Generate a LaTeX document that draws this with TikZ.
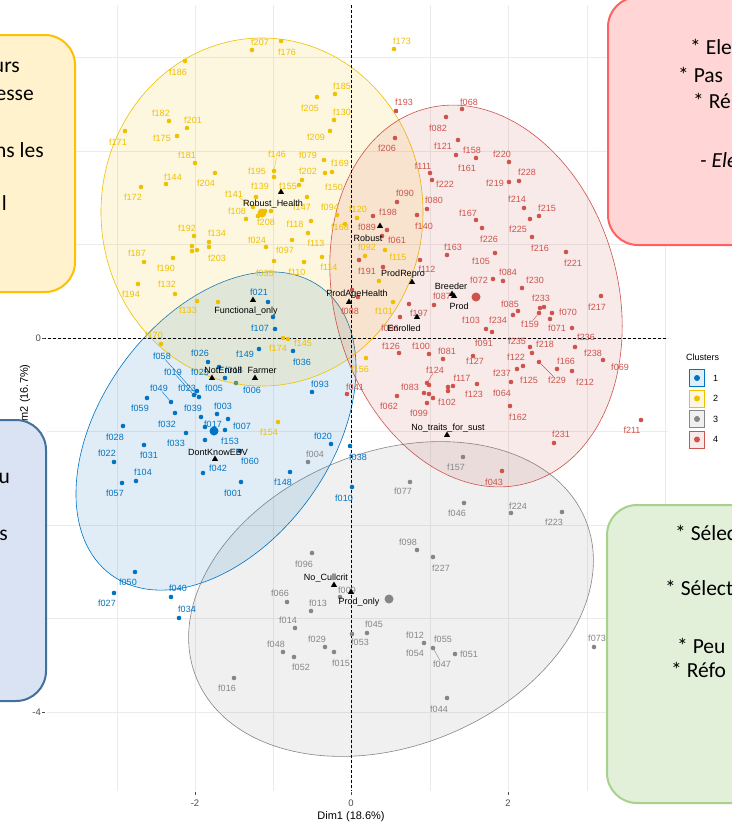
\documentclass[tikz,border=0pt]{standalone}
\usepackage{fontspec}
\setmainfont{Liberation Sans}
\newfontfamily\cbfont{Carlito}
\usetikzlibrary{shapes.geometric}
\definecolor{cb}{HTML}{0073C2}
\definecolor{cy}{HTML}{EFC000}
\definecolor{cg}{HTML}{868686}
\definecolor{cr}{HTML}{CD534C}
\definecolor{gridc}{HTML}{EBEBEB}
\definecolor{axc}{HTML}{4D4D4D}
\definecolor{yfill}{HTML}{FFF2CC}
\definecolor{ybord}{HTML}{FFC000}
\definecolor{bfill}{HTML}{DAE3F3}
\definecolor{bbord}{HTML}{41719C}
\definecolor{rfill}{HTML}{FFD5D5}
\definecolor{rbord}{HTML}{FF6161}
\definecolor{gfill}{HTML}{E2F0D9}
\definecolor{gbord}{HTML}{A9D18E}
\definecolor{mixg}{HTML}{5F9466}
\newcommand\mkpt[6]{\node[pdot,fill=#1] (d-#2) at (#3,#4) {};\node[plab,text=#1] (l-#2) at (#5,#6) {#2};}
\newcommand\mkdot[4]{\node[pdot,fill=#1] (#2) at (#3,#4) {};}
\newcommand\mklab[4]{\node[plab,text=#1] (l-#2) at (#3,#4) {#2};}
\newcommand\mksup[6]{\node[suptri] (t-#1) at (#3,#4) {};\node[suplab] (s-#1) at (#5,#6) {#2};}
\begin{document}
\begin{tikzpicture}[x=1pt,y=-1pt,
  pdot/.style={circle,inner sep=0pt,minimum size=4.6pt,draw=none},
  bigdot/.style={circle,inner sep=0pt,minimum size=9pt,draw=none},
  plab/.style={inner sep=0pt,font=\fontsize{9}{10}\selectfont},
  suptri/.style={regular polygon,regular polygon sides=3,fill=black,inner sep=0pt,minimum size=7pt},
  suplab/.style={inner sep=0pt,font=\fontsize{9}{10}\selectfont,text=black},
  gridl/.style={draw=gridc,line width=0.6pt},
  ell/.style={line width=0.6pt,fill opacity=0.12},
  zeroline/.style={black,line width=0.6pt,dash pattern=on 3pt off 2pt},
  ticklab/.style={inner sep=0pt,text=axc,font=\fontsize{9.5}{10}\selectfont},
  boxsty/.style={line width=2pt,rounded corners=30pt},
  boxtxt/.style={inner sep=0pt,text=black,font=\cbfont\fontsize{21.5}{24}\selectfont},
  legkey/.style={minimum width=15pt,minimum height=17pt,inner sep=0pt,line width=0.6pt},
]
\fill[white] (0,0) rectangle (731,827);
\useasboundingbox (0,0) rectangle (731,827);
% grid
\foreach \gx in {117,195,273,351,430,508,587,665} \draw[gridl] (\gx,5) -- (\gx,791);
\foreach \gy in {57,151,244,338,431,525,618,712} \draw[gridl] (47,\gy) -- (668,\gy);
% ellipses
\filldraw[ell,draw=cg,fill=cg,shift={(391,599)},rotate=22] (0,0) ellipse [x radius=210,y radius=147];
\filldraw[ell,draw=cb,fill=cb,shift={(216,431)},rotate=54] (0,0) ellipse [x radius=178,y radius=115];
\filldraw[ell,draw=cy,fill=cy] (262,212) ellipse [x radius=161,y radius=174];
\filldraw[ell,draw=cr,fill=cr,shift={(476,296)},rotate=15.2] (0,0) ellipse [x radius=142,y radius=194];
% zero lines
\draw[zeroline] (43,338) -- (668,338);
\draw[zeroline] (351,5) -- (351,791);
% ticks
\foreach \gy in {338,712} \draw[axc,line width=0.5pt] (42,\gy) -- (45,\gy);
\foreach \gx in {195,351,508} \draw[axc,line width=0.5pt] (\gx,792) -- (\gx,795);
\node[ticklab,anchor=east] (ty0) at (41,338) {0};
\node[ticklab,anchor=east] (ty4) at (41,712) {-4};
\node[ticklab] (tx2m) at (195,803) {-2};
\node[ticklab] (tx0) at (351,803) {0};
\node[ticklab] (tx2) at (508,803) {2};
\node[inner sep=0pt,font=\fontsize{11}{12}\selectfont,text=black] (xt) at (351,817) {Dim1 (18.6\%)};
\node[inner sep=0pt,font=\fontsize{11}{12}\selectfont,text=black,rotate=90] (yt) at (25,398) {Dim2 (16.7\%)};
% big centre dots
\node[bigdot,fill=cy] (cy0) at (262,213) {};
\node[bigdot,fill=cb] (cb0) at (214,431) {};
\node[bigdot,fill=cr] (cr0) at (476,297) {};
\node[bigdot,fill=cg] (cg0) at (389,599) {};
% yellow cluster
\mkpt{cy}{f186}{185}{61}{178}{72}
\mkpt{cy}{f182}{169}{121}{161}{113}
\mkpt{cy}{f201}{187}{128}{193}{120}
\mkpt{cy}{f171}{125}{131}{118}{142}
\mkpt{cy}{f175}{177}{136}{162}{138}
\mkpt{cy}{f181}{195}{163}{187}{155}
\mkpt{cy}{f144}{166}{184}{173}{177}
\mkpt{cy}{f204}{215}{173}{206}{183}
\mkpt{cy}{f172}{141}{187}{133}{197}
\mkpt{cy}{f141}{253}{207}{234}{194}
\mkpt{cy}{f108}{246}{219}{237}{211}
\mkpt{cy}{f192}{194}{236}{187}{228}
\mkpt{cy}{f134}{209}{242}{217}{233}
\mkpt{cy}{f203}{209}{247}{217}{258}
\mkpt{cy}{f187}{144}{262}{137}{253}
\mkpt{cy}{f190}{173}{258}{166}{268}
\mkpt{cy}{f194}{138}{284}{131}{294}
\mkpt{cy}{f132}{175}{294}{167}{284}
\mkpt{cy}{f133}{197}{301}{188}{310}
\mkpt{cy}{f207}{252}{50}{260}{42}
\mkpt{cy}{f176}{281}{41}{287}{52}
\mkpt{cy}{f173}{394}{49}{402}{41}
\mkpt{cy}{f185}{335}{94}{342}{86}
\mkpt{cy}{f205}{317}{97}{310}{108}
\mkpt{cy}{f130}{334}{120}{342}{112}
\mkpt{cy}{f209}{330}{131}{316}{137}
\mkpt{cy}{f146}{274}{171}{277}{154}
\mkpt{cy}{f195}{274}{177}{257}{171}
\mkpt{cy}{f079}{324}{160}{308}{155}
\mkpt{cy}{f169}{332}{172}{340}{163}
\mkpt{cy}{f202}{325}{173}{308}{171}
\mkpt{cy}{f139}{256}{197}{260}{186}
\mkpt{cy}{f155}{299}{185}{288}{186}
\mkpt{cy}{f150}{302}{180}{334}{187}
\mkpt{cy}{f147}{307}{197}{302}{207}
\mkpt{cy}{f094}{337}{215}{330}{207}
\mkpt{cy}{f120}{357}{218}{358}{209}
\mkpt{cy}{f118}{311}{221}{295}{224}
\mkpt{cy}{f168}{345}{224}{340}{227}
\mkpt{cy}{f208}{258}{216}{266}{222}
\mkpt{cy}{f024}{266}{247}{257}{240}
\mkpt{cy}{f097}{292}{240}{285}{250}
\mkpt{cy}{f113}{308}{233}{316}{243}
\mkpt{cy}{f092}{365}{256}{367}{247}
\mkpt{cy}{f115}{385}{250}{398}{257}
\mkpt{cy}{f114}{322}{257}{329}{267}
\mkpt{cy}{f110}{304}{262}{297}{272}
\mkpt{cy}{f035}{274}{261}{265}{273}
\mkpt{cy}{f101}{393}{302}{384}{311}
\mkpt{cy}{f174}{283}{338}{278}{348}
\mkpt{cy}{f145}{288}{339}{303}{343}
\mkpt{cy}{f156}{366}{358}{360}{369}
\mkpt{cy}{f154}{278}{422}{269}{432}
\mkpt{cy}{f170}{161}{344}{154}{335}
\mkdot{cy}{y1}{192}{246}
\mkdot{cy}{y2}{192}{251}
\mkdot{cy}{y3}{197}{250}
\mkdot{cy}{y4}{218}{302}
\mkdot{cy}{y5}{379}{281}
\mkdot{cy}{y6}{265}{211}
\mkdot{cy}{y7}{271}{211}
\draw[cy,line width=0.4pt] (l-f141) -- (d-f141);
\draw[cy,line width=0.4pt] (l-f146) -- (d-f146);
% blue cluster
\mkpt{cb}{f021}{268}{302}{259}{292}
\mkdot{cb}{b1}{273}{317}
\mkpt{cb}{f107}{275}{329}{260}{328}
\mkpt{cb}{f149}{259}{349}{245}{354}
\mkpt{cb}{f036}{293}{351}{302}{362}
\mkpt{cb}{f026}{208}{362}{200}{353}
\mkpt{cb}{f058}{199}{397}{162}{356}
\mkpt{cb}{f019}{194}{395}{173}{372}
\mkpt{cb}{f023}{197}{391}{187}{388}
\mkpt{cb}{f025}{219}{367}{200}{372}
\mklab{cb}{f018}{234}{370}
\mkpt{cb}{f005}{225}{378}{214}{388}
\node[pdot,fill=mixg] (d-f006) at (236,383) {};
\node[plab,text=cb] (l-f006) at (252,390) {f006};
\mkpt{cb}{f049}{171}{402}{159}{388}
\mkpt{cb}{f059}{147}{398}{140}{408}
\mkpt{cb}{f039}{201}{417}{193}{408}
\mkpt{cb}{f003}{217}{414}{223}{406}
\mkdot{cb}{b2}{228}{419}
\mkpt{cb}{f032}{175}{413}{167}{424}
\mkpt{cb}{f017}{205}{427}{213}{424}
\mkpt{cb}{f007}{225}{430}{242}{426}
\mkpt{cb}{f028}{123}{426}{115}{437}
\mkpt{cb}{f033}{186}{433}{176}{443}
\mkpt{cb}{f153}{205}{440}{230}{441}
\mkpt{cb}{f022}{114}{462}{107}{453}
\mkpt{cb}{f031}{144}{445}{149}{455}
\mkpt{cb}{f042}{203}{473}{218}{468}
\mkpt{cb}{f060}{240}{451}{250}{461}
\mkpt{cb}{f104}{136}{481}{143}{472}
\mkpt{cb}{f057}{122}{483}{115}{493}
\mkpt{cb}{f001}{241}{482}{233}{493}
\mkpt{cb}{f093}{312}{392}{320}{384}
\mkpt{cb}{f020}{331}{444}{323}{436}
\mkpt{cb}{f038}{350}{446}{358}{457}
\mkpt{cb}{f148}{290}{472}{283}{482}
\mkpt{cb}{f010}{352}{487}{344}{498}
\mkpt{cb}{f050}{135}{572}{128}{582}
\mkpt{cb}{f027}{114}{593}{107}{603}
\mkpt{cb}{f040}{171}{597}{178}{588}
\mkpt{cb}{f034}{179}{618}{187}{609}
\draw[cb,line width=0.4pt] (l-f058) -- (d-f058);
\draw[cb,line width=0.4pt] (l-f019) -- (d-f019);
\draw[cb,line width=0.4pt] (l-f049) -- (d-f049);
% grey cluster
\mkpt{cg}{f004}{308}{462}{315}{454}
\mkpt{cg}{f077}{410}{482}{403}{491}
\mkpt{cg}{f157}{463}{457}{456}{467}
\mkpt{cg}{f046}{464}{503}{457}{513}
\mkpt{cg}{f224}{511}{513}{518}{506}
\mkpt{cg}{f223}{562}{512}{554}{522}
\mkpt{cg}{f098}{417}{550}{408}{542}
\mkpt{cg}{f227}{433}{557}{441}{568}
\mkpt{cg}{f096}{312}{553}{304}{564}
\mkpt{cg}{f009}{340}{597}{347}{590}
\mkpt{cg}{f066}{287}{602}{280}{593}
\mkpt{cg}{f013}{311}{611}{318}{603}
\mkpt{cg}{f014}{295}{628}{288}{620}
\mkpt{cg}{f045}{367}{633}{374}{624}
\mkpt{cg}{f053}{352}{634}{360}{642}
\mkpt{cg}{f029}{325}{647}{317}{639}
\mkpt{cg}{f048}{283}{652}{276}{644}
\mkpt{cg}{f015}{334}{652}{341}{663}
\mkpt{cg}{f052}{294}{657}{301}{667}
\mkpt{cg}{f012}{424}{643}{415}{635}
\mklab{cg}{f054}{415}{653}
\mkpt{cg}{f047}{433}{648}{442}{664}
\mklab{cg}{f055}{443}{639}
\mkpt{cg}{f051}{455}{654}{469}{654}
\mkpt{cg}{f016}{234}{678}{227}{688}
\mkpt{cg}{f044}{447}{698}{439}{709}
\mkpt{cg}{f073}{594}{647}{597}{638}
\draw[cg,line width=0.4pt] (l-f047) -- (d-f047);
% red cluster
\mkpt{cr}{f193}{396}{111}{404}{102}
\mkpt{cr}{f068}{462}{109}{469}{102}
\mkpt{cr}{f082}{446}{117}{438}{128}
\mkpt{cr}{f206}{395}{138}{387}{148}
\mkpt{cr}{f121}{458}{140}{443}{146}
\mkpt{cr}{f158}{476}{158}{472}{150}
\mkpt{cr}{f161}{456}{155}{467}{168}
\mkpt{cr}{f220}{509}{162}{502}{154}
\mkpt{cr}{f228}{519}{181}{527}{172}
\mkpt{cr}{f219}{509}{182}{495}{183}
\mkpt{cr}{f111}{430}{173}{423}{166}
\mkpt{cr}{f222}{432}{180}{445}{184}
\mkpt{cr}{f090}{397}{202}{405}{193}
\mkpt{cr}{f080}{427}{209}{434}{200}
\mkpt{cr}{f140}{417}{215}{424}{226}
\mkpt{cr}{f198}{373}{216}{388}{212}
\mkpt{cr}{f089}{387}{230}{367}{227}
\mkpt{cr}{f061}{382}{236}{397}{240}
\mkpt{cr}{f167}{476}{220}{468}{213}
\mkpt{cr}{f226}{482}{228}{489}{239}
\mkpt{cr}{f214}{524}{208}{517}{199}
\mkpt{cr}{f215}{539}{216}{547}{208}
\mkpt{cr}{f225}{530}{219}{518}{229}
\mkpt{cr}{f216}{532}{237}{540}{248}
\mkpt{cr}{f221}{566}{252}{573}{263}
\mkpt{cr}{f163}{447}{255}{453}{247}
\mkpt{cr}{f105}{495}{253}{481}{261}
\mkpt{cr}{f112}{420}{260}{427}{269}
\mkpt{cr}{f191}{359}{260}{367}{271}
\mkpt{cr}{f084}{503}{281}{508}{272}
\mkpt{cr}{f072}{493}{279}{479}{280}
\mkpt{cr}{f230}{522}{288}{535}{280}
\mkpt{cr}{f087}{434}{305}{442}{296}
\mkpt{cr}{f217}{601}{296}{597}{307}
\mkpt{cr}{f233}{544}{307}{541}{298}
\mkdot{cr}{r1}{540}{308}
\mkpt{cr}{f085}{518}{311}{510}{304}
\mkdot{cr}{r2}{513}{315}
\mkpt{cr}{f070}{552}{313}{568}{312}
\mkpt{cr}{f159}{539}{313}{530}{324}
\mkpt{cr}{f071}{550}{319}{557}{328}
\mkpt{cr}{f236}{572}{328}{586}{337}
\mkpt{cr}{f103}{486}{329}{471}{320}
\mkpt{cr}{f234}{492}{332}{498}{320}
\mkpt{cr}{f197}{409}{304}{419}{313}
\mkpt{cr}{f088}{358}{297}{350}{311}
\mkdot{cr}{r3}{352}{290}
\mkpt{cr}{f086}{400}{317}{390}{328}
\mkdot{cr}{r4}{383}{267}
\mkpt{cr}{f126}{399}{353}{391}{346}
\mkpt{cr}{f100}{429}{354}{421}{346}
\mkpt{cr}{f081}{443}{359}{447}{351}
\mkpt{cr}{f127}{473}{356}{475}{361}
\mklab{cr}{f091}{484}{343}
\mkpt{cr}{f235}{530}{347}{517}{341}
\mkpt{cr}{f218}{532}{353}{545}{344}
\mkpt{cr}{f238}{575}{347}{593}{353}
\mkpt{cr}{f069}{603}{360}{620}{367}
\mkpt{cr}{f122}{523}{366}{516}{357}
\mkpt{cr}{f237}{517}{369}{502}{373}
\mklab{cr}{f125}{529}{380}
\mkpt{cr}{f166}{557}{369}{566}{361}
\mkpt{cr}{f212}{572}{371}{585}{382}
\mkpt{cr}{f229}{539}{362}{557}{380}
\mkpt{cr}{f124}{427}{383}{435}{370}
\mkdot{cr}{r5}{429}{385}
\mkpt{cr}{f117}{453}{386}{462}{378}
\mkdot{cr}{r6}{448}{387}
\mkpt{cr}{f102}{448}{391}{447}{402}
\mkpt{cr}{f083}{424}{393}{410}{387}
\mkdot{cr}{r7}{429}{394}
\mkdot{cr}{r8}{433}{398}
\mkpt{cr}{f062}{397}{396}{389}{406}
\mkpt{cr}{f099}{427}{403}{419}{413}
\mkpt{cr}{f123}{477}{384}{474}{394}
\mkpt{cr}{f064}{511}{382}{502}{393}
\mkpt{cr}{f162}{510}{406}{518}{417}
\mkpt{cr}{f041}{347}{394}{355}{387}
\mkpt{cr}{f231}{554}{443}{561}{434}
\mkpt{cr}{f043}{502}{471}{494}{482}
\mkpt{cr}{f211}{641}{420}{632}{430}
\draw[cr,line width=0.4pt] (l-f159) -- (d-f159);
\draw[cr,line width=0.4pt] (l-f229) -- (d-f229);
\draw[cr,line width=0.4pt] (l-f124) -- (d-f124);
% supplementary variables
\mksup{rh}{Robust\_Health}{281}{192}{273}{204}
\mksup{rob}{Robust}{380}{226}{368}{238}
\mksup{pr}{ProdRepro}{412}{282}{403}{274}
\mksup{pah}{ProdAgeHealth}{349}{302}{357}{294}
\mksup{bre}{Breeder}{452}{294}{451}{286}
\mksup{pro}{Prod}{454}{296}{459}{306}
\mksup{enr}{Enrolled}{417}{317}{404}{328}
\mksup{fo}{Functional\_only}{253}{300}{246}{311}
\mksup{ne}{NotEnroll}{212}{378}{223}{370}
\mksup{far}{Farmer}{255}{378}{262}{370}
\mksup{dk}{DontKnowEBV}{215}{459}{218}{452}
\mksup{nts}{No\_traits\_for\_sust}{447}{435}{448}{428}
\mksup{nc}{No\_Cullcrit}{334}{585}{326}{578}
\mksup{po}{Prod\_only}{351}{592}{359}{602}
% legend
\node[anchor=west,inner sep=0pt,font=\fontsize{9}{10}\selectfont,text=black] (legt) at (686,357) {Clusters};
\node[legkey,draw=cb,fill=cb!12] (k1) at (697,378) {};
\node[legkey,draw=cy,fill=cy!12] (k2) at (697,398.5) {};
\node[legkey,draw=cg,fill=cg!12] (k3) at (697,419) {};
\node[legkey,draw=cr,fill=cr!12] (k4) at (697,439.5) {};
\node[pdot,fill=cb,minimum size=6pt] (k1d) at (k1) {};
\node[pdot,fill=cy,minimum size=6pt] (k2d) at (k2) {};
\node[pdot,fill=cg,minimum size=6pt] (k3d) at (k3) {};
\node[pdot,fill=cr,minimum size=6pt] (k4d) at (k4) {};
\node[anchor=west,inner sep=0pt,font=\fontsize{9}{10}\selectfont] (k1t) at (713,378) {1};
\node[anchor=west,inner sep=0pt,font=\fontsize{9}{10}\selectfont] (k2t) at (713,398.5) {2};
\node[anchor=west,inner sep=0pt,font=\fontsize{9}{10}\selectfont] (k3t) at (713,419) {3};
\node[anchor=west,inner sep=0pt,font=\fontsize{9}{10}\selectfont] (k4t) at (713,439.5) {4};
% text boxes
\draw[boxsty,draw=ybord,fill=yfill] (-40,35) rectangle (75,292);
\node[boxtxt,anchor=east] (yb1) at (20,67) {urs};
\node[boxtxt,anchor=east] (yb2) at (34,95) {esse};
\node[boxtxt,anchor=east] (yb3) at (44,150) {ns les};
\node[boxtxt,anchor=east] (yb4) at (7,203) {l};
\draw[boxsty,draw=bbord,fill=bfill] (-40,420) rectangle (46,701);
\node[boxtxt,anchor=east] (bb1) at (10,478) {u};
\node[boxtxt,anchor=east] (bb2) at (8,535) {s};
\draw[boxsty,draw=rbord,fill=rfill] (608,-3) rectangle (790,245);
\node[boxtxt,anchor=west] (rb1) at (690,47) {* Ele};
\node[boxtxt,anchor=west] (rb2) at (678,75) {* Pas};
\node[boxtxt,anchor=west] (rb3) at (693,101) {* Ré};
\node[boxtxt,anchor=west] (rb4) at (700,160) {\itshape - Ele};
\draw[boxsty,draw=gbord,fill=gfill] (607,505) rectangle (790,803);
\node[boxtxt,anchor=west] (gb1) at (675,533) {* Sélec};
\node[boxtxt,anchor=west] (gb2) at (665,588) {* Sélect};
\node[boxtxt,anchor=west] (gb3) at (677,646) {* Peu};
\node[boxtxt,anchor=west] (gb4) at (671,670) {* Réfo};
\end{tikzpicture}
\end{document}
